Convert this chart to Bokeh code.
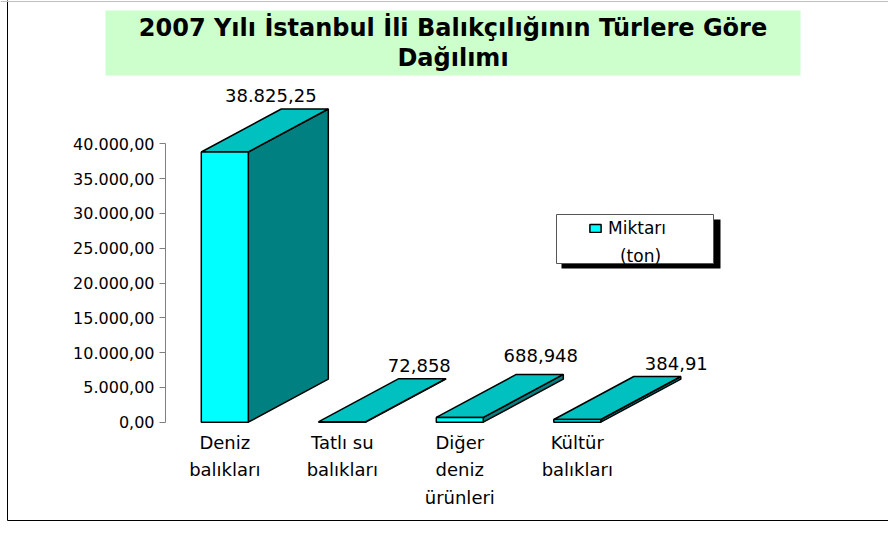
from bokeh.plotting import figure
from bokeh.models import (ColumnDataSource, FixedTicker, BoxAnnotation, Label,
                          Legend, LegendItem, Range1d, Span)
from bokeh.core.properties import value
from bokeh.embed import file_html
from bokeh.resources import INLINE

# ---------------- data ----------------
categories = ["Deniz\nbalıkları", "Tatlı su\nbalıkları", "Diğer\ndeniz\nürünleri", "Kültür\nbalıkları"]
miktar = [38825.25, 72.858, 688.948, 384.91]
value_labels = ["38.825,25", "72,858", "688,948", "384,91"]
y_ticks = [0, 5000, 10000, 15000, 20000, 25000, 30000, 35000, 40000]
y_tick_labels = ["0,00", "5.000,00", "10.000,00", "15.000,00", "20.000,00",
                 "25.000,00", "30.000,00", "35.000,00", "40.000,00"]
series_name = "Miktarı"
series_unit = "(ton)"
title_text = "2007 Yılı İstanbul İli Balıkçılığının Türlere Göre\nDağılımı"

# ---------------- layout (canvas pixels, y downward) ----------------
W, H = 888, 528
AXIS_X_PX = 165
Y0_PX, YTOP_PX = 421.7, 143.3          # canvas y of value 0 and of 40000
CAT0_PX, CAT_STEP = 224.3, 117.5       # canvas x of first category centre, spacing
DEPTH_X_PX, DEPTH_Y_PX = 80, 43        # 3-D depth offset
BAR_HALF = 0.2                         # half width in category units
label_nudge_px = [46, 77, 81, 99]
label_lift_px = [7, 7, 12, 7]


def sy(y_down):
    """canvas y (downward) -> screen units (upward from frame bottom)"""
    return H - y_down


def screen_box(left, right, top, bottom, **kw):
    return BoxAnnotation(left=left, right=right, bottom=sy(bottom), top=sy(top),
                         left_units="screen", right_units="screen",
                         bottom_units="screen", top_units="screen", **kw)


k = (Y0_PX - YTOP_PX) / y_ticks[-1]
y_start = -(H - Y0_PX) / k
y_end = y_ticks[-1] + YTOP_PX / k
x_start = -CAT0_PX / CAT_STEP
x_end = x_start + W / CAT_STEP
DX = DEPTH_X_PX / CAT_STEP
DY = DEPTH_Y_PX / k

xs_c = list(range(len(categories)))
lefts = [c - BAR_HALF for c in xs_c]
rights = [c + BAR_HALF for c in xs_c]

p = figure(width=W, height=H, x_range=Range1d(x_start, x_end),
           y_range=Range1d(y_start, y_end), output_backend="svg",
           toolbar_location=None, x_axis_location=None, title=None,
           min_border_left=0, min_border_right=0,
           min_border_top=0, min_border_bottom=0)
p.outline_line_color = None
p.xgrid.visible = False
p.ygrid.visible = False

ax = p.yaxis[0]
ax.fixed_location = (AXIS_X_PX - CAT0_PX) / CAT_STEP
ax.ticker = FixedTicker(ticks=y_ticks)
ax.major_label_overrides = {t: l for t, l in zip(y_ticks, y_tick_labels)}
ax.bounds = (y_ticks[0], y_ticks[-1])
ax.axis_line_color = "#808080"
ax.major_tick_line_color = "#808080"
ax.major_tick_out = 6
ax.major_tick_in = 0
ax.minor_tick_out = 0
ax.minor_tick_in = 0
ax.major_label_standoff = 5
ax.major_label_text_font = "DejaVu Sans"
ax.major_label_text_font_size = "16px"
ax.major_label_text_color = "black"

# ---------------- outer border ----------------
p.add_layout(screen_box(7, W + 20, -20, 520, fill_alpha=0,
                        line_color="black", line_alpha=1.0, line_width=1))
p.add_layout(Span(location=sy(1), dimension="width", location_units="screen",
                  line_color="#c0c0c0", line_width=1))

# ---------------- 3-D bars ----------------
side_xs, side_ys, top_xs, top_ys = [], [], [], []
for l, r, v in zip(lefts, rights, miktar):
    side_xs.append([r, r + DX, r + DX, r])
    side_ys.append([0, DY, v + DY, v])
    top_xs.append([l, r, r + DX, l + DX])
    top_ys.append([v, v, v + DY, v + DY])

p.patches(side_xs, side_ys, fill_color="#008080", line_color="black", line_width=1.5)
p.patches(top_xs, top_ys, fill_color="#00C0C0", line_color="black", line_width=1.5)
front_src = ColumnDataSource(dict(left=lefts, right=rights, top=miktar))
front = p.quad(left="left", right="right", bottom=0, top="top", source=front_src,
               fill_color="#00FFFF", line_color="black", line_width=1.5)

# value labels
vl_src = ColumnDataSource(dict(x=xs_c, y=[v + DY for v in miktar], t=value_labels,
                               dx=label_nudge_px, dy=[-d for d in label_lift_px]))
p.text(x="x", y="y", text="t", source=vl_src, x_offset="dx", y_offset="dy",
       text_align="center", text_baseline="bottom",
       text_font=value("DejaVu Sans"), text_font_size="18px", text_color="black")

# category labels
cl_src = ColumnDataSource(dict(x=xs_c, y=[0] * len(xs_c), t=categories))
p.text(x="x", y="y", text="t", source=cl_src, y_offset=10,
       text_align="center", text_baseline="top", text_line_height=1.3,
       text_font=value("DejaVu Sans"), text_font_size="18px", text_color="black")

# ---------------- title ----------------
p.add_layout(screen_box(105, 800, 10, 75, fill_color="#CCFFCC", fill_alpha=1.0,
                        line_color=None, level="underlay"))
p.add_layout(Label(x=452.5, y=sy(42.5), x_units="screen", y_units="screen",
                   text=title_text, text_align="center", text_baseline="middle",
                   text_font="DejaVu Sans", text_font_style="bold",
                   text_font_size="24px", text_line_height=1.08, text_color="black"))

# ---------------- legend ----------------
p.add_layout(screen_box(561, 720, 219, 268, fill_color="black", fill_alpha=1.0,
                        line_color=None))
p.add_layout(screen_box(556, 713, 214, 263, fill_color="white", fill_alpha=1.0,
                        line_color="#555555", line_alpha=1.0, line_width=1))
legend = Legend(items=[LegendItem(label=series_name, renderers=[front])],
                location=(588, sy(238)), padding=0, margin=0,
                border_line_color=None, background_fill_alpha=0,
                glyph_width=14, glyph_height=10, label_standoff=6,
                label_text_font="DejaVu Sans", label_text_font_size="17px",
                label_text_color="black", label_height=10)
p.add_layout(legend)
p.add_layout(Label(x=640, y=sy(255), x_units="screen", y_units="screen",
                   text=series_unit, text_align="center", text_baseline="alphabetic",
                   text_font="DejaVu Sans", text_font_size="17px", text_color="black"))

open("out.html", "w").write(file_html(p, INLINE))
